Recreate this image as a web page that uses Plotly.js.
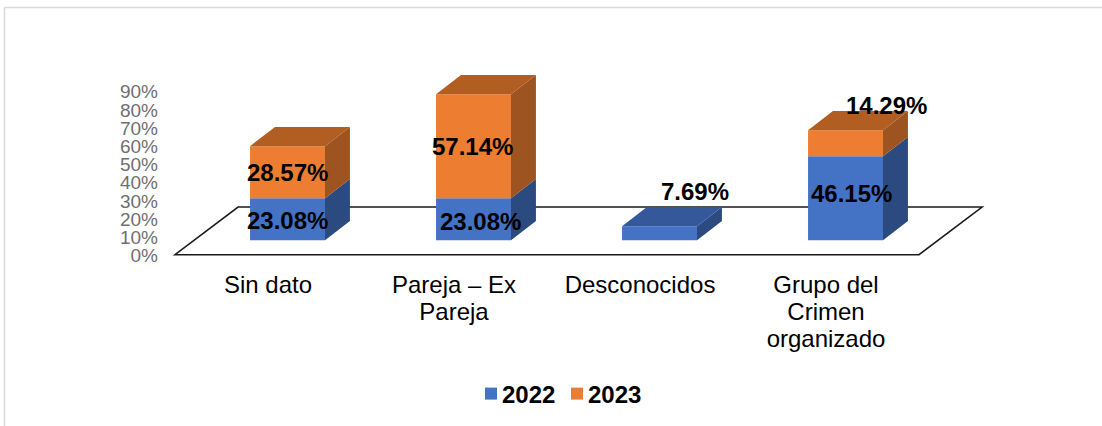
<!DOCTYPE html>
<html><head><meta charset="utf-8">
<script src="https://cdn.plot.ly/plotly-3.0.1.min.js"></script>
<style>html,body{margin:0;padding:0;background:#fff}#c{width:1102px;height:426px}</style>
</head><body><div id="c"></div>
<script>
const tickLabels = ['Sin dato','Pareja – Ex<br>Pareja','Desconocidos','Grupo del<br>Crimen<br>organizado'];
const categoryIndex = [0,1,2,3];
const v2022 = [23.08,23.08,7.69,46.15];
const v2023 = [28.57,57.14,null,14.29];
const yTicks = [0,10,20,30,40,50,60,70,80,90];
const C = {b:'#4472c4',bTop:'#34589a',bSide:'#2a4a80',o:'#ed7d31',oTop:'#b25e23',oSide:'#9e5420'};
// pseudo-3D geometry in axis units
const W=1102,H=426,L=162,R=990,T=40,B=262,Y0=254.7,S=1.82;
const floorBase=8, barOff=0.105, barW=0.403, dx=0.134, dy=10.47, fdx=0.339, fdy=26.2;
const pct=v=>v.toFixed(2)+'%';
const xs=categoryIndex.map(i=>i+barOff);
const base1=v2022.map(()=>floorBase);
const base2=v2022.map(v=>floorBase+v);
const stackTop=v2022.map((v,i)=>floorBase+v+(v2023[i]||0));
function poly(list){const X=[],Y=[];list.forEach(p=>{p.forEach(q=>{X.push(q[0]);Y.push(q[1])});X.push(null);Y.push(null)});return [X,Y]}
function side(i,y0,y1){const r=xs[i]+barW/2;return [[r,y0],[r+dx,y0+dy],[r+dx,y1+dy],[r,y1],[r,y0]]}
function topFace(i,y){const l=xs[i]-barW/2,r=xs[i]+barW/2;return [[l,y],[r,y],[r+dx,y+dy],[l+dx,y+dy],[l,y]]}
function face(p,color){return {type:'scatter',mode:'lines',x:p[0],y:p[1],fill:'toself',fillcolor:color,line:{width:0,color:color},hoverinfo:'skip',showlegend:false}}
const sideB=poly(categoryIndex.map(i=>side(i,floorBase,base2[i])));
const sideO=poly(categoryIndex.filter(i=>v2023[i]).map(i=>side(i,base2[i],stackTop[i])));
const topB=poly(categoryIndex.filter(i=>!v2023[i]).map(i=>topFace(i,stackTop[i])));
const topO=poly(categoryIndex.filter(i=>v2023[i]).map(i=>topFace(i,stackTop[i])));
const traces=[
 {type:'bar',name:'2022',x:xs,y:v2022,base:base1,width:barW,marker:{color:C.b},hoverinfo:'skip'},
 {type:'bar',name:'2023',x:xs,y:v2023,base:base2,width:barW,marker:{color:C.o},hoverinfo:'skip'},
 face(sideB,C.bSide),face(sideO,C.oSide),face(topB,C.bTop),face(topO,C.oTop)
];
// manual label nudges (pixels), as placed in the reference
const shift2022=[[0,-1],[7,-2],[35,42],[6,5]];
const shift2023=[[0,0],[-1,0],[0,0],[41,38]];
const ann=[];
const lf={family:'Liberation Sans, Arial, sans-serif',size:24,color:'#000',weight:700};
categoryIndex.forEach(i=>{
  ann.push({x:xs[i],y:floorBase+v2022[i]/2,text:pct(v2022[i]),showarrow:false,font:lf,xshift:shift2022[i][0],yshift:shift2022[i][1]});
  if(v2023[i]) ann.push({x:xs[i],y:base2[i]+v2023[i]/2,text:pct(v2023[i]),showarrow:false,font:lf,xshift:shift2023[i][0],yshift:shift2023[i][1]});
});
const px=p=>(p-L)/(R-L), py=p=>(B-p)/(B-T);
const floorPath=`M -0.5 0 L 3.5 0 L ${3.5+fdx} ${fdy} L ${-0.5+fdx} ${fdy} Z`;
const layout={
 width:W,height:H,paper_bgcolor:'#fff',plot_bgcolor:'rgba(0,0,0,0)',
 margin:{l:L,r:W-R,t:T,b:H-B,pad:0,autoexpand:false},barmode:'overlay',
 font:{family:'Liberation Sans, Arial, sans-serif'},
 xaxis:{type:'linear',range:[(L-268)/186,(R-268)/186],tickmode:'array',tickvals:categoryIndex,ticktext:tickLabels,
   showgrid:false,zeroline:false,showline:false,ticks:'',tickangle:0,ticklabelstandoff:6,tickfont:{size:24,color:'#000'},fixedrange:true},
 yaxis:{range:[(Y0-B)/S,(Y0-T)/S],tickmode:'array',tickvals:yTicks.map(v=>v-0.5),ticktext:yTicks.map(v=>v+'%'),
   showgrid:false,zeroline:false,showline:false,ticks:'',ticklabelstandoff:3,tickfont:{size:19,color:'#6f6f6f'},fixedrange:true},
 shapes:[
  {type:'path',layer:'below',xref:'x',yref:'y',path:floorPath,fillcolor:'rgba(0,0,0,0)',line:{color:'#1a1a1a',width:1.6}},
  {type:'line',xref:'paper',yref:'paper',x0:px(4.5),x1:px(1102),y0:py(7.5),y1:py(7.5),line:{color:'#d9d9d9',width:1.5}},
  {type:'line',xref:'paper',yref:'paper',x0:px(4.5),x1:px(4.5),y0:py(7.5),y1:py(426),line:{color:'#d9d9d9',width:1.5}}
 ],
 annotations:ann,
 showlegend:true,
 legend:{orientation:'h',xanchor:'center',yanchor:'middle',x:px(548),y:py(394),font:{size:24,color:'#000',weight:700},traceorder:'normal',itemwidth:30,entrywidth:41,entrywidthmode:'pixels',bgcolor:'rgba(0,0,0,0)'}
};
Plotly.newPlot('c',traces,layout,{displayModeBar:false,staticPlot:true}).then(()=>{
  // tighter line spacing for multi-line category labels; swatches close to their text
  document.querySelectorAll('.xtick text tspan.line').forEach(t=>{
    const n=parseFloat(t.getAttribute('dy'))||0;
    if(n) t.setAttribute('dy',(n/1.3*1.125)+'em');
  });
  document.querySelectorAll('.legend .legendpoints').forEach(g=>g.setAttribute('transform','translate(9,0)'));
  document.querySelectorAll('.legend .scrollbox').forEach(g=>g.removeAttribute('clip-path'));
});
</script></body></html>
